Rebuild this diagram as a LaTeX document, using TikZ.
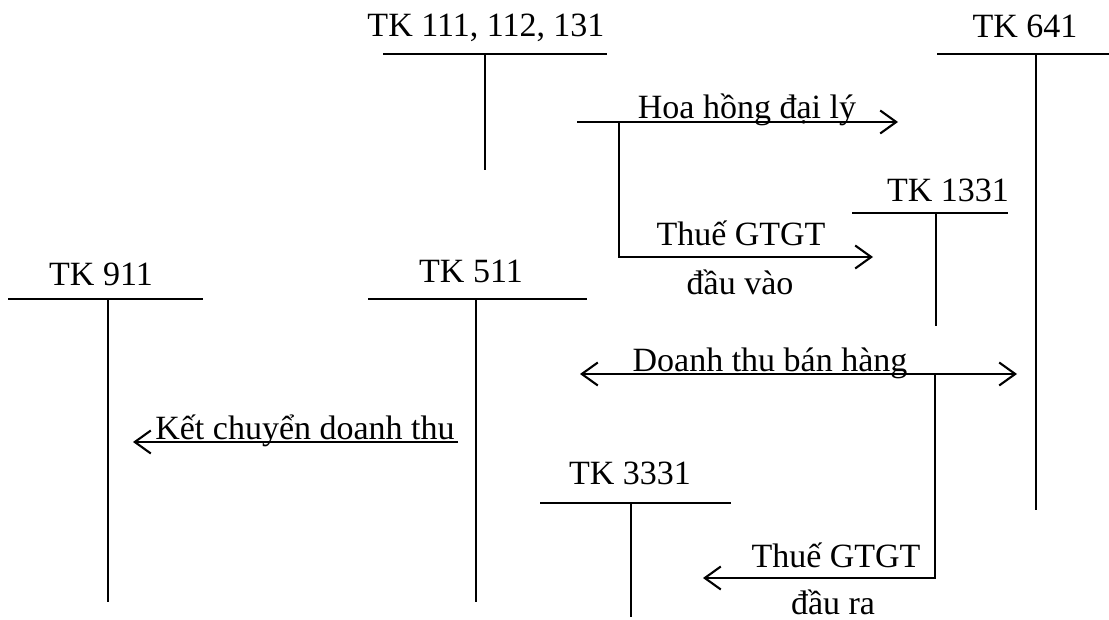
\documentclass[tikz,border=0pt]{standalone}
\usepackage{fontspec}
\setmainfont{Liberation Serif}
\usetikzlibrary{arrows.meta}
\newcommand{\tkfont}{\fontsize{34}{40}\selectfont}
\begin{document}
\begin{tikzpicture}[x=1pt,y=-1pt,line width=1.9pt,
  title/.style={font=\tkfont,anchor=base,inner sep=0pt},
  lbl/.style={font=\tkfont,anchor=base,inner sep=0pt},
  barb/.tip={Straight Barb[length=16pt,width=23pt,line width=2.1pt]},
  flow/.style={-barb},
  both/.style={barb-barb}]
\useasboundingbox (0,0) rectangle (1109,620);

% T-accounts: title, top bar, stem
\node[title] (t111) at (486,37) {TK 111, 112, 131};
\coordinate (b111l) at (383,54); \coordinate (b111r) at (607,54);
\coordinate (s111t) at (485,54); \coordinate (s111b) at (485,170);
\draw (b111l) -- (b111r); \draw (s111t) -- (s111b);

\node[title] (t641) at (1025,38) {TK 641};
\coordinate (b641l) at (937,54); \coordinate (b641r) at (1109,54);
\coordinate (s641t) at (1036,54); \coordinate (s641b) at (1036,510);
\draw (b641l) -- (b641r); \draw (s641t) -- (s641b);

\node[title] (t1331) at (948,202) {TK 1331};
\coordinate (b1331l) at (852,213); \coordinate (b1331r) at (1008,213);
\coordinate (s1331t) at (936,213); \coordinate (s1331b) at (936,326);
\draw (b1331l) -- (b1331r); \draw (s1331t) -- (s1331b);

\node[title] (t911) at (101,286) {TK 911};
\coordinate (b911l) at (8,299); \coordinate (b911r) at (203,299);
\coordinate (s911t) at (108,299); \coordinate (s911b) at (108,602);
\draw (b911l) -- (b911r); \draw (s911t) -- (s911b);

\node[title] (t511) at (471,283) {TK 511};
\coordinate (b511l) at (368,299); \coordinate (b511r) at (587,299);
\coordinate (s511t) at (476,299); \coordinate (s511b) at (476,602);
\draw (b511l) -- (b511r); \draw (s511t) -- (s511b);

\node[title] (t3331) at (630,484) {TK 3331};
\coordinate (b3331l) at (540,503); \coordinate (b3331r) at (731,503);
\coordinate (s3331t) at (631,503); \coordinate (s3331b) at (631,617);
\draw (b3331l) -- (b3331r); \draw (s3331t) -- (s3331b);

% Commission and input VAT
\coordinate (hhs) at (577,122); \coordinate (hhe) at (898,122);
\coordinate (hhb) at (619,122); \coordinate (vtc) at (619,257);
\coordinate (vte) at (873,257);
\draw[flow] (hhs) -- (hhe);
\draw[flow] (hhb) -- (vtc) -- (vte);
\node[lbl] (hh) at (747,119) {Hoa hồng đại lý};
\node[lbl] (vt1) at (741,246) {Thuế GTGT};
\node[lbl] (vt2) at (740,295) {đầu vào};

% Sales revenue and output VAT
\coordinate (dts) at (580,374); \coordinate (dte) at (1017,374);
\draw[both] (dts) -- (dte);
\node[lbl] (dt) at (770,372) {Doanh thu bán hàng};
\coordinate (rat) at (935,374); \coordinate (rac) at (935,578);
\coordinate (rae) at (703,578);
\draw[flow] (rat) -- (rac) -- (rae);
\node[lbl] (ra1) at (836,567) {Thuế GTGT};
\node[lbl] (ra2) at (833,614) {đầu ra};

% Closing revenue to TK 911
\coordinate (kcs) at (458,442); \coordinate (kce) at (133,442);
\draw[flow] (kcs) -- (kce);
\node[lbl] (kc) at (305,439) {Kết chuyển doanh thu};
\end{tikzpicture}
\end{document}
